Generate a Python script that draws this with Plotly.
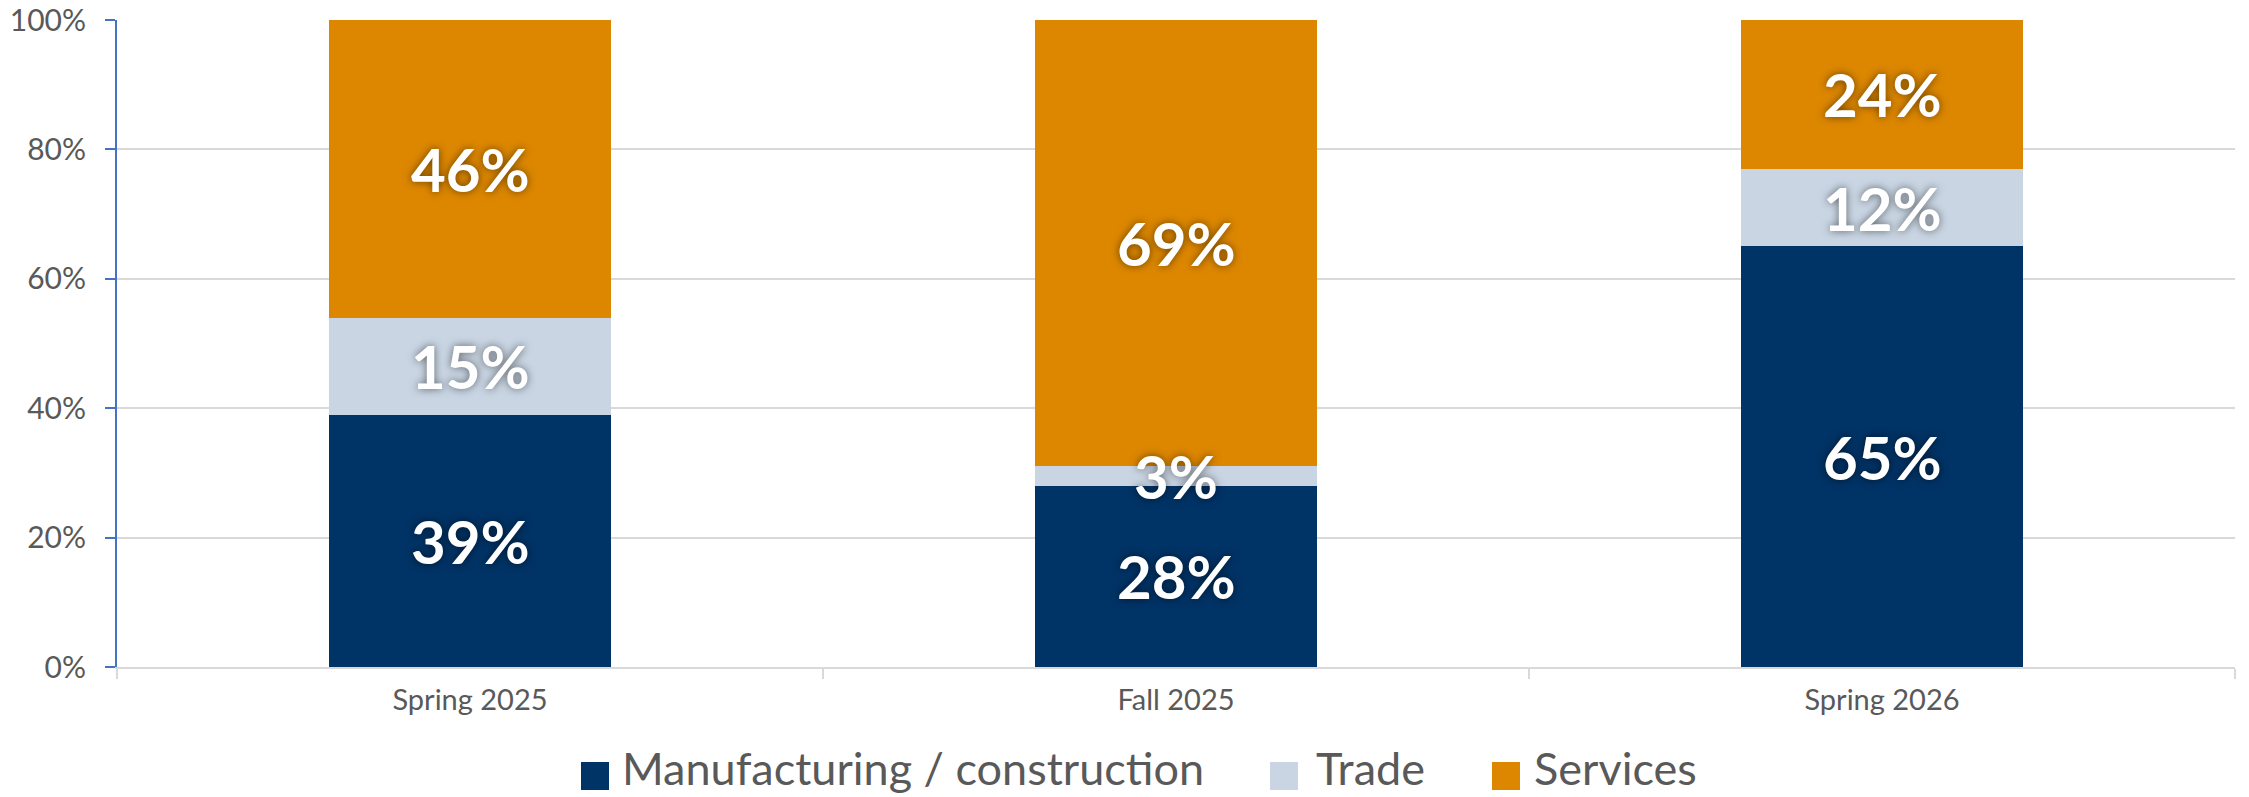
import plotly.graph_objects as go

categories = ["Spring 2025", "Fall 2025", "Spring 2026"]
manufacturing = [39, 28, 65]
trade = [15, 3, 12]
services = [46, 69, 24]
series_names = ["Manufacturing / construction", "Trade", "Services"]
colors = ["#003366", "#C9D5E3", "#DD8700"]
y_ticks = [0, 20, 40, 60, 80, 100]
y_tick_labels = ["0%", "20%", "40%", "60%", "80%", "100%"]

W, H = 2249, 797
L, R, T, B = 117, 14, 20, 130
FONT = "Lato"
GRAY = "#595959"

fig = go.Figure()
series = [manufacturing, trade, services]
for name, vals, col in zip(series_names, series, colors):
    fig.add_trace(go.Bar(
        x=categories, y=vals, name=name, marker=dict(color=col, line=dict(width=0)),
        width=0.4, showlegend=False, hoverinfo="x+y+name",
    ))

# value labels centred in each segment
annotations = []
for i, cat in enumerate(categories):
    base = 0
    for vals in series:
        v = vals[i]
        top = min(base + v, 100)
        mid = (base + top) / 2
        annotations.append(dict(
            x=cat, y=mid, xref="x", yref="y", text=f"{v}%", showarrow=False,
            font=dict(family=FONT, size=60, color="white", weight="bold",
                      shadow="0px 0px 8px rgba(0,0,0,0.55)"),
        ))
        base += v

# manual legend (large square swatches)
def px_to_paper_x(px):
    return (px - L) / (W - L - R)

def px_to_paper_y(py):
    return (H - B - py) / (H - T - B)

legend_items = [(581, 620), (1270, 1314), (1492, 1532)]
shapes = []
cy = 774
sq = 28
for (sx, tx), name, col in zip(legend_items, series_names, colors):
    shapes.append(dict(
        type="rect", xref="paper", yref="paper",
        x0=px_to_paper_x(sx), x1=px_to_paper_x(sx + sq),
        y0=px_to_paper_y(cy + sq / 2 + 2), y1=px_to_paper_y(cy - sq / 2 + 2),
        fillcolor=col, line=dict(width=0),
    ))
    annotations.append(dict(
        x=px_to_paper_x(tx), y=px_to_paper_y(cy - 6), xref="paper", yref="paper",
        xanchor="left", yanchor="middle", text=name, showarrow=False,
        font=dict(family=FONT, size=45, color=GRAY),
    ))

fig.update_layout(
    width=W, height=H,
    margin=dict(l=L, r=R, t=T, b=B, autoexpand=False),
    barmode="stack",
    plot_bgcolor="white", paper_bgcolor="white",
    showlegend=False,
    annotations=annotations,
    shapes=shapes,
    font=dict(family=FONT, color=GRAY),
)
fig.update_xaxes(
    showline=True, linecolor="#D9D9D9", linewidth=2,
    ticks="outside", tickson="boundaries", ticklen=10, tickcolor="#D9D9D9", tickwidth=2,
    showgrid=False, tickfont=dict(family=FONT, size=29, color=GRAY),
    ticklabelstandoff=6, automargin=False,
)
fig.update_yaxes(
    range=[0, 100], tickvals=y_ticks, ticktext=y_tick_labels,
    showline=True, linecolor="#4472C4", linewidth=2,
    ticks="outside", ticklen=10, tickcolor="#4472C4", tickwidth=2,
    showgrid=True, gridcolor="#D9D9D9", gridwidth=2, zeroline=False,
    tickfont=dict(family=FONT, size=30, color=GRAY),
    ticklabelstandoff=13, automargin=False,
)

fig.write_html("out.html")
